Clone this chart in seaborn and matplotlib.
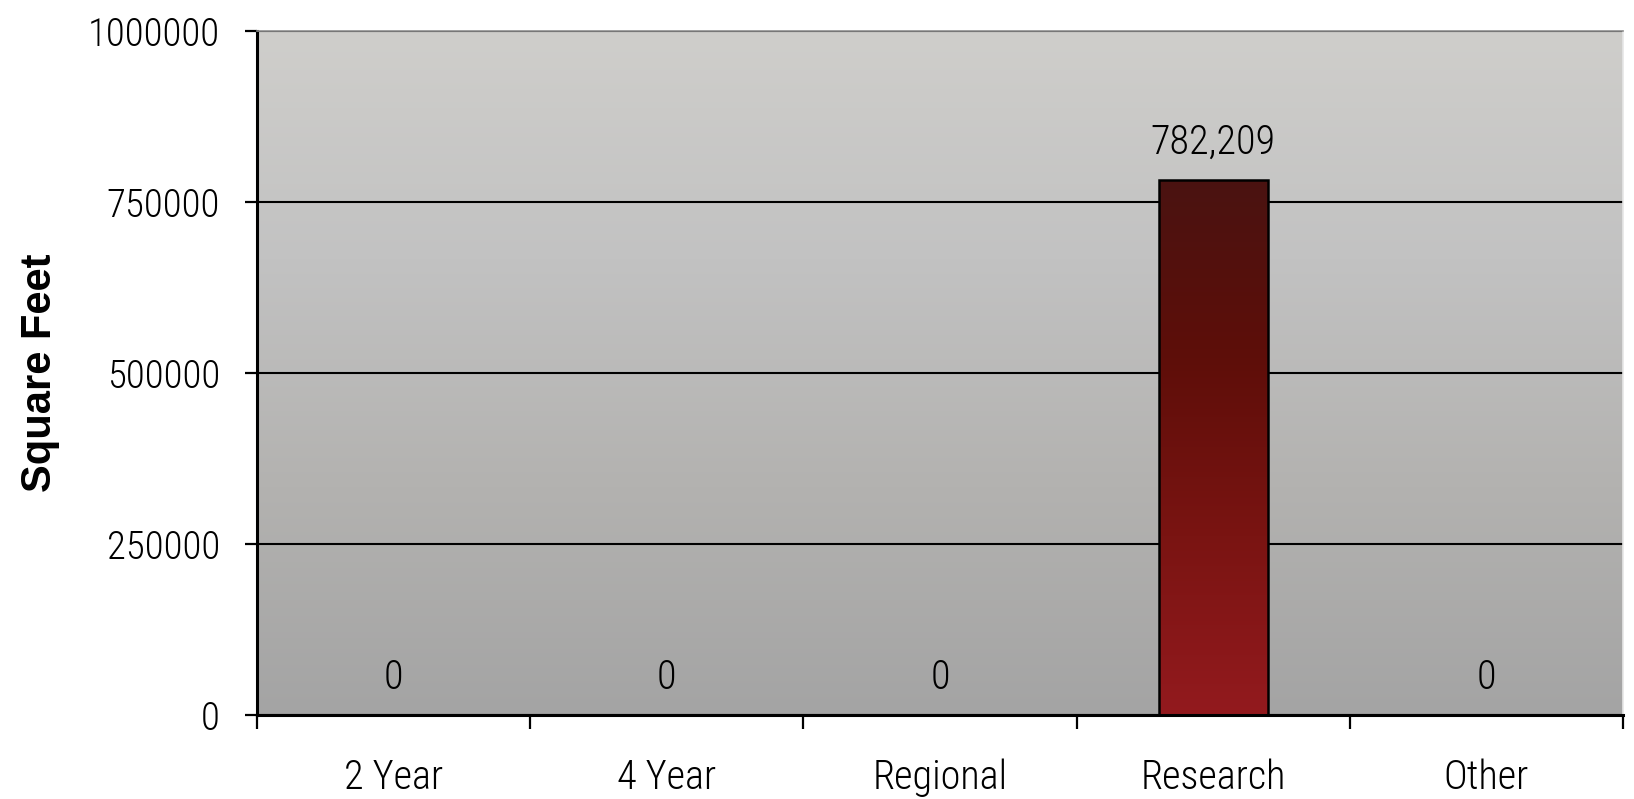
import matplotlib
matplotlib.use('Agg')
import matplotlib.pyplot as plt
from matplotlib import font_manager
from matplotlib.colors import LinearSegmentedColormap
import seaborn as sns
import pandas as pd
import numpy as np

# Data
categories = ['2 Year', '4 Year', 'Regional', 'Research', 'Other']
square_feet = [0, 0, 0, 782209, 0]
y_ticks = [0, 250000, 500000, 750000, 1000000]
y_tick_labels = ['0', '250000', '500000', '750000', '1000000']

df = pd.DataFrame({'Kategori': categories, 'Square Feet': square_feet})

sns.set_style('white')

# narrow font if there is one, otherwise Liberation Sans
installed = {f.name for f in font_manager.fontManager.ttflist}
narrow = [f for f in ['Liberation Sans Narrow', 'Roboto Condensed', 'Open Sans Condensed'] if f in installed]
plt.rcParams['font.family'] = narrow + ['Liberation Sans', 'DejaVu Sans']
plt.rcParams['font.weight'] = 'light'
plt.rcParams['text.color'] = 'black'
plt.rcParams['xtick.color'] = 'black'
plt.rcParams['ytick.color'] = 'black'
plt.rcParams['axes.labelcolor'] = 'black'

fig = plt.figure(figsize=(16.34, 7.99), dpi=100)
ax = fig.add_axes([257 / 1634, 1 - 715 / 799, 1366 / 1634, 684 / 799])

sns.barplot(x='Kategori', y='Square Feet', data=df, order=categories,
            width=0.4, color='#6a1210', ax=ax, zorder=2)

# background gradient of the plot area
bg = LinearSegmentedColormap.from_list('bg', ['#a4a4a4', '#b3b2b0', '#c2c2c2', '#cfcecb'])
grad = np.linspace(0, 1, 256).reshape(-1, 1)
ax.imshow(grad, cmap=bg, origin='lower', aspect='auto', extent=[0, 1, 0, 1],
          transform=ax.transAxes, zorder=0)

# bar gradient
bar_cmap = LinearSegmentedColormap.from_list('bar', ['#931a1e', '#7a1412', '#5e0e09', '#4a1311'])
for p in ax.patches:
    if p.get_height() > 0:
        x0, y0 = p.get_x(), p.get_y()
        w, h = p.get_width(), p.get_height()
        im = ax.imshow(grad, cmap=bar_cmap, origin='lower', aspect='auto',
                       extent=[x0, x0 + w, y0, y0 + h], zorder=2.5)
        im.set_clip_path(p)
        p.set_facecolor('none')
        p.set_edgecolor('black')
        p.set_linewidth(1.8)
        p.set_zorder(3)

# value labels
for i, v in enumerate(square_feet):
    ax.annotate(f'{v:,}', (i, v), xytext=(0, 19), textcoords='offset points',
                ha='center', va='baseline', fontsize=29)

ax.set_xlim(-0.5, len(categories) - 0.5)
ax.set_ylim(0, 1000000)
ax.set_yticks(y_ticks)
ax.set_yticklabels(y_tick_labels)

# category boundaries as major ticks, names on minor ticks
ax.set_xticks(np.arange(len(categories) + 1) - 0.5)
ax.set_xticklabels([])
ax.set_xticks(np.arange(len(categories)), minor=True)
ax.set_xticklabels(categories, minor=True)
ax.tick_params(axis='x', which='major', direction='out', length=10, width=1.6, color='black', bottom=True)
ax.tick_params(axis='x', which='minor', length=0, pad=31, labelsize=29)
ax.tick_params(axis='y', direction='out', length=8.6, width=1.6, color='black', left=True, pad=18, labelsize=28)

ax.yaxis.grid(True, color='black', linewidth=1.5)
ax.set_axisbelow(True)
ax.set_xlabel('')

ax.set_ylabel('Square Feet', fontsize=30, fontweight='bold', family=['Liberation Sans', 'DejaVu Sans'], va='center')
ax.yaxis.set_label_coords((40 - 257) / 1366, 0.5)

for s in ['left', 'bottom']:
    ax.spines[s].set_color('black')
    ax.spines[s].set_linewidth(2.2)
ax.spines['top'].set_color('#8f8f8f')
ax.spines['top'].set_linewidth(1.2)
ax.spines['right'].set_color('#e6e6e6')
ax.spines['right'].set_linewidth(1.2)

plt.savefig('out.png', dpi=100)
